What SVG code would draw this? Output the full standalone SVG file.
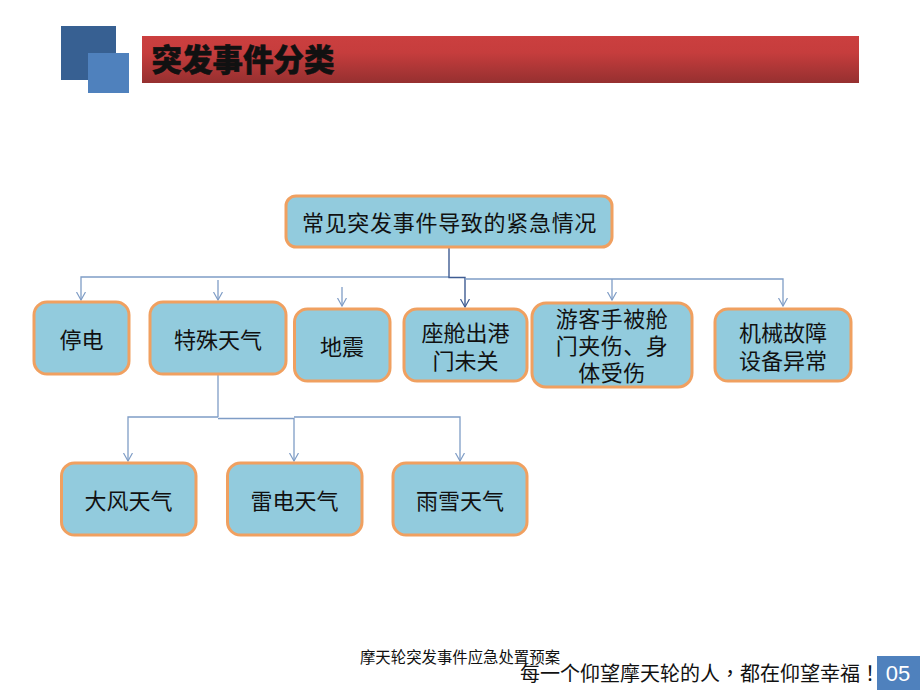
<svg xmlns="http://www.w3.org/2000/svg" width="920" height="690" viewBox="0 0 920 690">
<style>
text{font-family:"Noto Sans CJK SC","Noto Sans",sans-serif;fill:#111;text-anchor:middle}
.n rect{fill:#92CBDD;stroke:#F0A060;stroke-width:3}
.n text{font-size:22px}
.l{fill:none;stroke:#7F9DC6;stroke-width:1.3}
.a{marker-end:url(#a)}
.d{fill:none;stroke:#3F5C92;stroke-width:1.4;marker-end:url(#b)}
</style>
<defs>
<linearGradient id="g" x1="0" y1="0" x2="0" y2="1"><stop offset="0" stop-color="#CB3F3F"/><stop offset=".35" stop-color="#C63D3D"/><stop offset="1" stop-color="#963030"/></linearGradient>
<marker id="a" markerUnits="userSpaceOnUse" markerWidth="10" markerHeight="11" refX="8.500" refY="5" orient="auto"><path d="M0.500 0.500L8.500 5L0.500 9.500" fill="none" stroke="#7F9DC6" stroke-width="1.200"/></marker>
<marker id="b" markerUnits="userSpaceOnUse" markerWidth="10" markerHeight="11" refX="8.500" refY="5" orient="auto"><path d="M0.500 0.500L8.500 5L0.500 9.500" fill="none" stroke="#3F5C92" stroke-width="1.200"/></marker>
</defs>
<rect width="920" height="690" fill="#fff"/>
<g id="header">
<rect x="61" y="26" width="55" height="54" fill="#376092"/>
<rect x="88" y="53" width="41" height="40" fill="#4F81BD"/>
<rect x="142" y="36" width="717" height="47" fill="url(#g)"/>
<text x="243" y="71" style="font-size:30.500px;font-weight:900;stroke:#111;stroke-width:.5">突发事件分类</text>
</g>
<g id="connectors">
<path class="l a" d="M449 277H81V300"/>
<path class="l a" d="M218 280V300"/>
<path class="l a" d="M342 287V306"/>
<path class="d" d="M449 247V277.500H465V307"/>
<path class="l a" d="M465 279H783V306"/>
<path class="l a" d="M612 279V300"/>
<path class="l" d="M218 375V417"/>
<path class="l a" d="M218 417H128V461"/>
<path class="l a" d="M218 418.500H294V461"/>
<path class="l a" d="M294 417H460V461"/>
</g>
<g id="n0" class="n"><rect x="286" y="196" width="326" height="51" rx="10"/><text x="449.500" y="231" style="letter-spacing:.7px">常见突发事件导致的紧急情况</text></g>
<g id="n1" class="n"><rect x="34" y="302" width="95" height="72" rx="13"/><text x="81.500" y="348">停电</text></g>
<g id="n2" class="n"><rect x="150" y="302" width="136" height="72" rx="13"/><text x="218" y="348">特殊天气</text></g>
<g id="n3" class="n"><rect x="294.500" y="309" width="95.500" height="72" rx="13"/><text x="342" y="355">地震</text></g>
<g id="n4" class="n"><rect x="404" y="309" width="123" height="72" rx="13"/><text x="465.500" y="341">座舱出港<tspan x="465.500" dy="28">门未关</tspan></text></g>
<g id="n5" class="n"><rect x="532" y="303" width="160" height="84" rx="14"/><text x="612" y="327" style="letter-spacing:.5px">游客手被舱<tspan x="612" dy="27">门夹伤、身</tspan><tspan x="612" dy="27">体受伤</tspan></text></g>
<g id="n6" class="n"><rect x="715" y="309" width="136" height="72" rx="13"/><text x="783" y="341">机械故障<tspan x="783" dy="28">设备异常</tspan></text></g>
<g id="n7" class="n"><rect x="61.500" y="463" width="134.500" height="72" rx="13"/><text x="128.500" y="509">大风天气</text></g>
<g id="n8" class="n"><rect x="227.500" y="463" width="134.500" height="72" rx="13"/><text x="294.500" y="509">雷电天气</text></g>
<g id="n9" class="n"><rect x="393" y="463" width="134" height="72" rx="13"/><text x="460" y="509">雨雪天气</text></g>
<g id="footer">
<text x="460" y="663" style="font-size:15.400px">摩天轮突发事件应急处置预案</text>
<text x="520" y="681" style="font-size:20px;text-anchor:start;font-family:'Noto Sans CJK TC',sans-serif">每一个仰望摩天轮的人，都在仰望幸福！</text>
<rect x="877" y="656" width="43" height="34" fill="#4F81BD"/>
<text x="898" y="681" style="font-size:22px;fill:#fff;font-family:'Liberation Sans',sans-serif">05</text>
</g>
</svg>
